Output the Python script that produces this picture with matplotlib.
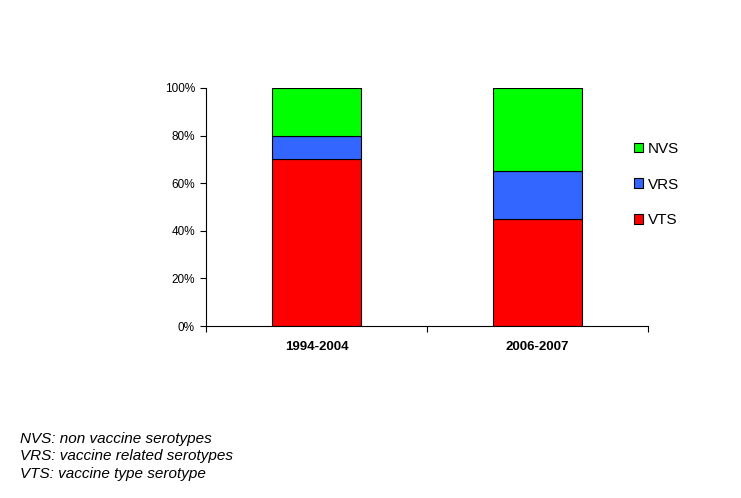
import matplotlib
matplotlib.use("Agg")
import matplotlib.pyplot as plt
from matplotlib.patches import Patch
import numpy as np

categories = ["1994-2004", "2006-2007"]
vts = [70, 45]
vrs = [10, 20]
nvs = [20, 35]
series_names = ["VTS", "VRS", "NVS"]
colors = ["#FF0000", "#3366FF", "#00FF00"]
yticks = [0, 20, 40, 60, 80, 100]
footnotes = ["NVS: non vaccine serotypes",
             "VRS: vaccine related serotypes",
             "VTS: vaccine type serotype"]

plt.rcParams['font.family'] = ['Liberation Sans', 'DejaVu Sans']

fig = plt.figure(figsize=(7.41, 4.98), dpi=100)
ax = fig.add_axes([206/741, 1-326/498, 442/741, 238/498])

x = np.arange(len(categories))
bottom = np.zeros(len(categories))
for vals, c, name in zip([vts, vrs, nvs], colors, series_names):
    ax.bar(x, vals, width=0.4, bottom=bottom, color=c, edgecolor="black",
           linewidth=0.8, label=name)
    bottom += np.array(vals)

ax.set_xlim(-0.5, len(categories) - 0.5)
ax.set_ylim(0, 100)
ax.set_yticks(yticks)
ax.set_yticklabels([f"{t}%" for t in yticks], fontsize=8.5)
ax.set_xticks(x)
ax.set_xticklabels(categories, fontsize=9.5, fontweight="bold")
ax.tick_params(axis="x", length=0, pad=11)
ax.set_xticks(np.arange(-0.5, len(categories), 1.0), minor=True)
ax.tick_params(axis="x", which="minor", length=4, direction="out", width=0.8)
ax.tick_params(axis="y", length=4, direction="out", width=0.8, pad=4)
for s in ["top", "right"]:
    ax.spines[s].set_visible(False)
for s in ["left", "bottom"]:
    ax.spines[s].set_linewidth(0.8)

handles = [Patch(facecolor=c, edgecolor="black", linewidth=0.8, label=n)
           for c, n in zip(colors, series_names)][::-1]
fig.legend(handles=handles, loc="upper left", bbox_to_anchor=(634/741, 1-142/498),
           frameon=False, fontsize=11, handlelength=0.6, handleheight=0.6,
           handletextpad=0.33, labelspacing=1.42, borderpad=0, borderaxespad=0)

for i, t in enumerate(footnotes):
    fig.text(20/741, 1-(438.5 + i*17.5)/498, t, fontsize=11, style="italic",
             va="center", ha="left")

fig.savefig("out.png", dpi=100)
